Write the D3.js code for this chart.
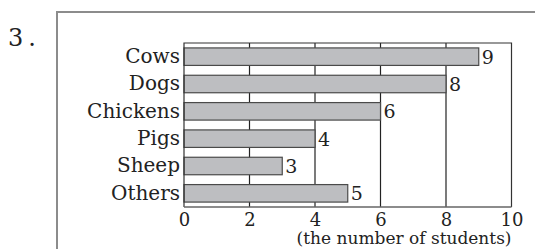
<!DOCTYPE html>
<html>
<head>
<meta charset="utf-8">
<script src="https://cdn.jsdelivr.net/npm/d3@7"></script>
<style>
html,body{margin:0;padding:0;background:#fff;}
svg{display:block;}
text{font-family:"DejaVu Serif","Liberation Serif",serif;fill:#222;}
</style>
</head>
<body>
<svg id="chart" width="535" height="249"></svg>
<script>
const categories = ["Cows","Dogs","Chickens","Pigs","Sheep","Others"];
const values = [9,8,6,4,3,5];
const ticks = [0,2,4,6,8,10];
const axisTitle = "(the number of students)";
const problemLabel = "3.";

const svg = d3.select("#chart");
const W = 535, H = 249;
const pLeft = 184, pRight = 511.5, pTop = 43, pBottom = 207;

// outer frame (extends beyond canvas)
svg.append("path")
  .attr("d", `M57,${H+5} L57,12 L${W+5},12`)
  .attr("fill","none").attr("stroke","#8c8c8c").attr("stroke-width",2);

svg.append("text").attr("x",8).attr("y",45.5)
  .style("font-size","24px").style("letter-spacing","5px").text(problemLabel);

const x = d3.scaleLinear().domain([0,10]).range([pLeft,pRight]);
const y = d3.scaleBand().domain(categories).range([pTop,pBottom])
  .paddingInner(0.36).paddingOuter(0.18);

// gridlines
svg.append("g").selectAll("line").data(ticks.filter(t=>t>0 && t<10)).join("line")
  .attr("x1",d=>x(d)).attr("x2",d=>x(d)).attr("y1",pTop).attr("y2",pBottom)
  .attr("stroke","#222").attr("stroke-width",1.2);

// bars
svg.append("g").selectAll("rect").data(categories).join("rect")
  .attr("x",x(0)).attr("y",d=>y(d))
  .attr("width",(d,i)=>x(values[i])-x(0)).attr("height",y.bandwidth())
  .attr("fill","#bdbec1").attr("stroke","#4a4a4a").attr("stroke-width",1.2);

// plot frame
svg.append("path")
  .attr("d",`M${pLeft},${pBottom} L${pLeft},${pTop} L${pRight},${pTop} L${pRight},${pBottom}`)
  .attr("fill","none").attr("stroke","#333").attr("stroke-width",1.2);
svg.append("line").attr("x1",pLeft).attr("x2",pRight).attr("y1",pBottom).attr("y2",pBottom)
  .attr("stroke","#666").attr("stroke-width",1.5);

// x axis tick labels
const xAxis = d3.axisBottom(x).tickValues(ticks).tickSize(0).tickPadding(6).tickFormat(d3.format("d"));
const gx = svg.append("g").attr("transform",`translate(0,${pBottom})`).call(xAxis);
gx.select(".domain").remove();
gx.selectAll("text").style("font-size","18px").attr("fill","#222")
  .style("font-family",'"DejaVu Serif",serif');

// axis title
svg.append("text").attr("x",pRight).attr("y",244).attr("text-anchor","end")
  .style("font-size","17px").text(axisTitle);

// category labels
const yAxis = d3.axisLeft(y).tickSize(0).tickPadding(4);
const gy = svg.append("g").attr("transform",`translate(${pLeft},0)`).call(yAxis);
gy.select(".domain").remove();
gy.selectAll("text").style("font-size","20px").attr("fill","#222")
  .style("font-family",'"DejaVu Serif",serif');

// value labels
svg.append("g").selectAll("text").data(categories).join("text")
  .attr("x",(d,i)=>x(values[i])+3).attr("y",d=>y(d)+y.bandwidth()/2)
  .attr("dy","0.36em").style("font-size","19px")
  .text((d,i)=>values[i]);
</script>
</body>
</html>
